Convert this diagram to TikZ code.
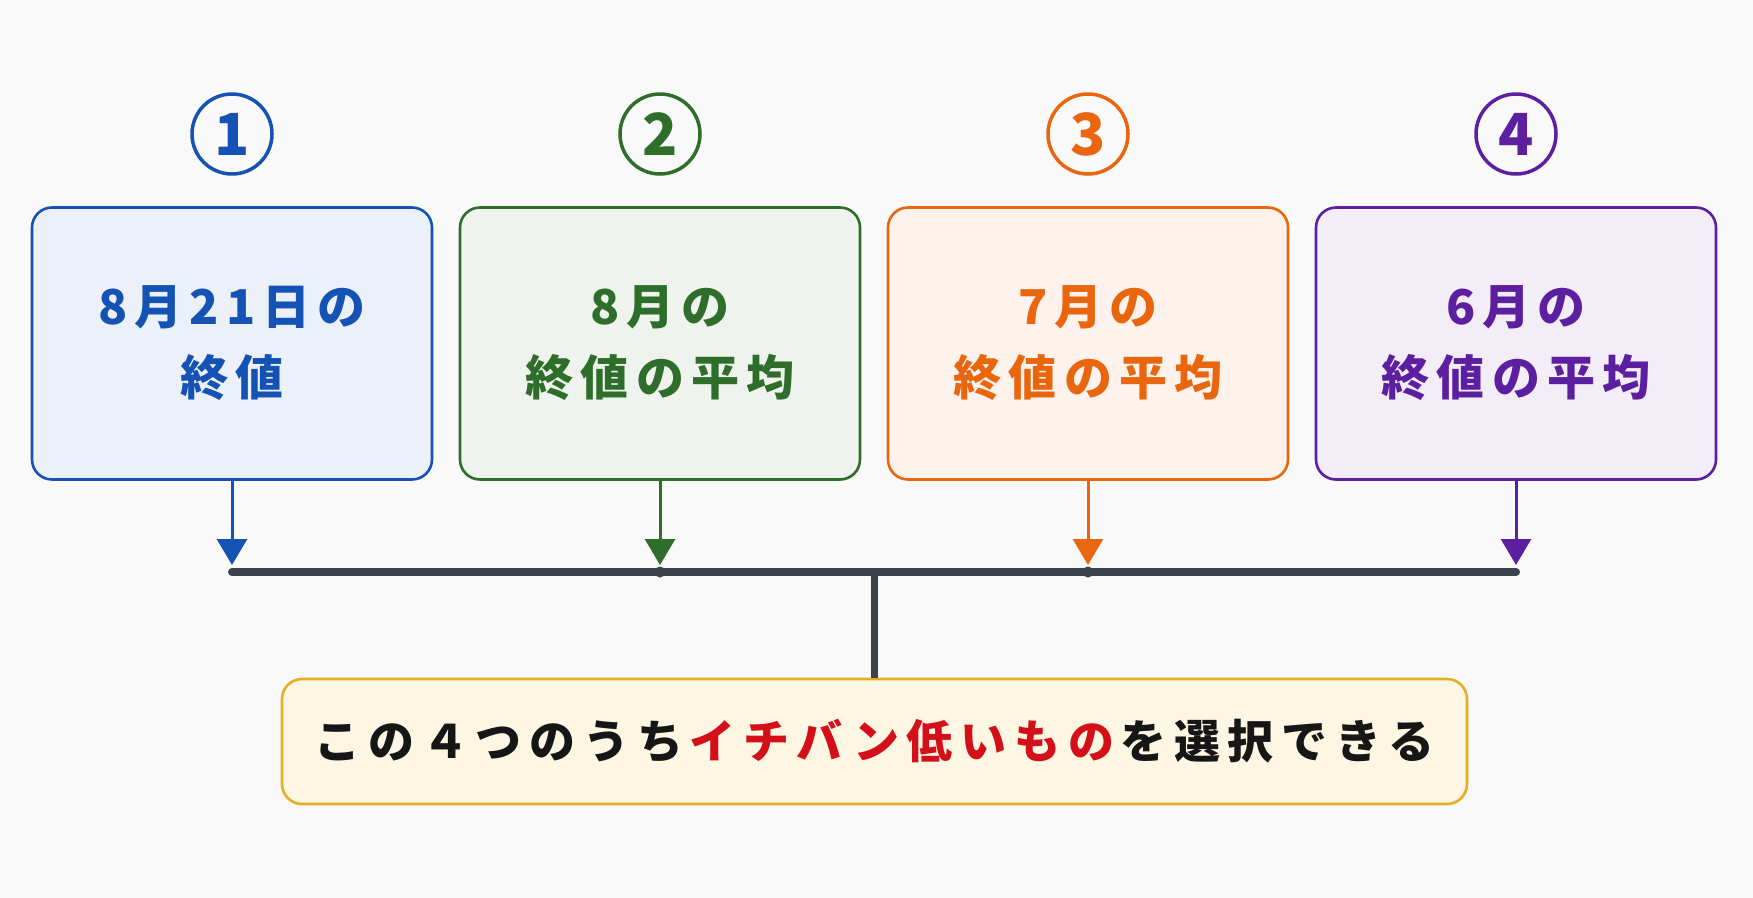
\documentclass[tikz,border=0pt]{standalone}
\usepackage{fontspec}
\newfontfamily\jp[LetterSpace=15]{Noto Sans CJK JP}
\newfontfamily\jpwide[LetterSpace=17]{Noto Sans CJK JP}
\usetikzlibrary{arrows.meta}

\definecolor{blueC}{HTML}{1452B4}
\definecolor{greenC}{HTML}{2F6E2A}
\definecolor{orangeC}{HTML}{E9660F}
\definecolor{purpleC}{HTML}{5C1FA0}
\definecolor{busgray}{HTML}{3C424A}
\definecolor{goldC}{HTML}{E6AE24}
\definecolor{goldFill}{HTML}{FDF6E3}
\definecolor{redC}{HTML}{D3101A}
\definecolor{inkC}{HTML}{161616}
\definecolor{paperC}{HTML}{F9F9F9}

\begin{document}
\begin{tikzpicture}[x=1pt,y=-1pt,
    card/.style={draw, line width=2.6pt, rounded corners=20pt,
      minimum width=400pt, minimum height=272pt, align=center,
      font=\jp\bfseries\fontsize{48}{71}\selectfont},
    numring/.style={circle, draw, line width=3.5pt, minimum size=80pt,
      inner sep=0pt, font=\jp\bfseries\fontsize{58}{58}\selectfont},
    feed/.style={line width=3pt, shorten >=7pt,
      -{Triangle[width=30pt,length=26pt]}},
    bus/.style={line width=8pt, busgray, line cap=round}]

  % background and page size
  \fill[paperC] (0,0) rectangle (1753,897);
  \useasboundingbox (0,0) rectangle (1753,897);

  % the four candidates
  \foreach \i/\x/\col/\txt in {1/232/blueC/{8月21日の\\終値},
                               2/660/greenC/{8月の\\終値の平均},
                               3/1088/orangeC/{7月の\\終値の平均},
                               4/1516/purpleC/{6月の\\終値の平均}}{
    \node[numring, draw=\col, text=\col] (num\i) at (\x,134) {\i};
    \node[card, draw=\col, fill=\col!8, text=\col] (box\i) at (\x,343.5) {\txt};
    \coordinate (bus\i) at (\x,572);
    \draw[feed, \col] (box\i.south) -- (bus\i);
  }

  % collecting line
  \draw[bus] (bus1) -- (bus4);
  \foreach \i in {2,3}
    \fill[busgray] (bus\i) circle [radius=5.5pt];

  \node[draw=goldC, fill=goldFill, line width=2.6pt, rounded corners=20pt,
        minimum width=1185pt, minimum height=125pt, text=inkC,
        font=\jpwide\bfseries\fontsize{46}{46}\selectfont]
    (goal) at (874.5,741.5)
    {この４つのうち\kern6pt\textcolor{redC}{イチバン低いもの}\kern6pt を選択できる};

  \coordinate (hub) at (874.5,572);
  \draw[line width=7pt, busgray] (hub) -- (goal.north);
\end{tikzpicture}
\end{document}
